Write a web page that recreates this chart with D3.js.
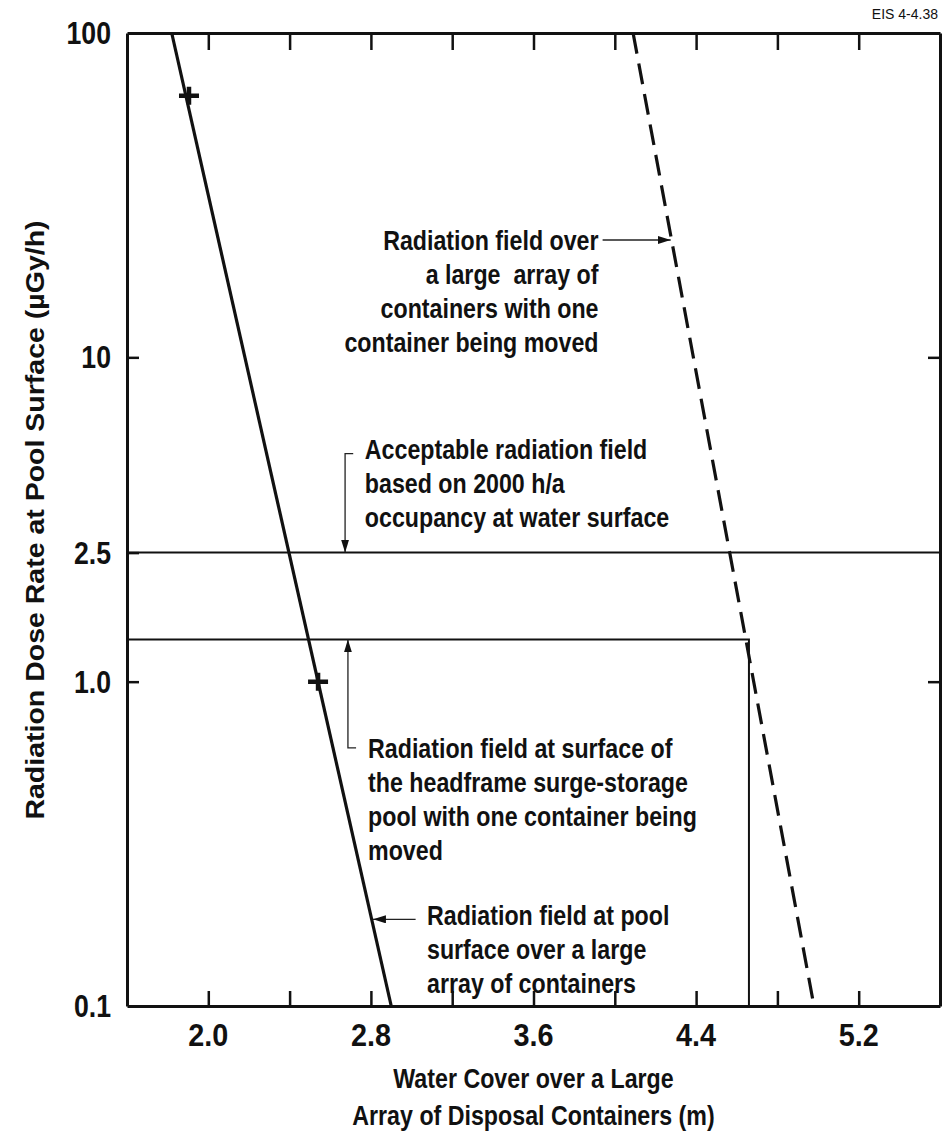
<!DOCTYPE html>
<html>
<head>
<meta charset="utf-8">
<script src="https://cdn.jsdelivr.net/npm/d3@7"></script>
<style>
  html, body { margin: 0; padding: 0; background: #fff; }
  svg { display: block; }
  text { font-family: "Liberation Sans", Arial, Helvetica, sans-serif; fill: #111; }
</style>
</head>
<body>
<svg id="chart" width="942" height="1145"></svg>
<script>
// Water cover (m) versus dose rate (µGy/h) for the two shielding cases
const poolArrayX = [1.82, 2.90];          // pool surface, large array of containers
const poolArrayY = [100, 0.1];
const poolMarkersX = [1.905, 2.54];       // computed points on that curve
const poolMarkersY = [64, 1.0];
const movingX = [4.09, 4.98];             // one container being moved
const movingY = [100, 0.1];
const acceptableRate = 2.5;               // 2000 h/a occupancy limit
const surgePoolRate = 1.35;               // headframe surge-storage pool
const surgePoolCover = 4.66;
const xTicks = [2.0, 2.4, 2.8, 3.2, 3.6, 4.0, 4.4, 4.8, 5.2];
const xTickLabels = ["2.0", "2.8", "3.6", "4.4", "5.2"];
const yTickLabels = ["100", "10", "2.5", "1.0", "0.1"];
const yLeftTicks = [10, 2.5, 1.0];
const yRightTicks = [10, 1.0];

const svg = d3.select("#chart");
const plotLeft = 127, plotRight = 940, plotTop = 33, plotBottom = 1006;
const narrow = 0.86;   // the lettering is set slightly condensed

const x = d3.scaleLinear().domain([1.6, 5.6]).range([plotLeft, plotRight]);
const y = d3.scaleLog().domain([0.1, 100]).range([plotBottom, plotTop]);

// condensed bold label anchored at (px, py)
function label(px, py, str, size, anchor, extra, squeeze) {
  return svg.append("text")
    .attr("transform", `translate(${px},${py}) scale(${squeeze || narrow},1)` + (extra || ""))
    .attr("text-anchor", anchor).attr("font-size", size).attr("font-weight", "bold")
    .style("white-space", "pre")
    .text(str);
}

// arrowhead
svg.append("defs").append("marker")
  .attr("id", "arrow").attr("viewBox", "0 0 13 8")
  .attr("refX", 13).attr("refY", 4)
  .attr("markerWidth", 13).attr("markerHeight", 8)
  .attr("markerUnits", "userSpaceOnUse")
  .attr("orient", "auto")
  .append("path").attr("d", "M0,0 L13,4 L0,8 Z").attr("fill", "#111");

// axes: ticks point inward, labels chosen by hand
const xBottom = d3.axisBottom(x).tickValues(xTicks).tickSizeInner(-15).tickSizeOuter(0).tickFormat("");
const xTop = d3.axisTop(x).tickValues(xTicks).tickSizeInner(-17).tickSizeOuter(0).tickFormat("");
const yLeft = d3.axisLeft(y).tickValues(yLeftTicks).tickSizeInner(-12).tickSizeOuter(0).tickFormat("");
const yRight = d3.axisRight(y).tickValues(yRightTicks).tickSizeInner(-12).tickSizeOuter(0).tickFormat("");

function styleAxis(g) {
  g.selectAll("path.domain").attr("stroke", "#111").attr("stroke-width", 3);
  g.selectAll(".tick line").attr("stroke", "#111").attr("stroke-width", 2.5);
}
svg.append("g").attr("transform", `translate(0,${plotBottom})`).call(xBottom).call(styleAxis);
svg.append("g").attr("transform", `translate(0,${plotTop})`).call(xTop).call(styleAxis);
svg.append("g").attr("transform", `translate(${plotLeft},0)`).call(yLeft).call(styleAxis);
svg.append("g").attr("transform", `translate(${plotRight},0)`).call(yRight).call(styleAxis);

// tick labels
xTickLabels.forEach(d => label(x(+d), plotBottom + 40, d, 32, "middle", "", 0.9));
yTickLabels.forEach(d => label(plotLeft - 16, y(+d) + 11, d, 31, "end"));

// reference levels
svg.append("line")
  .attr("x1", x(1.6)).attr("x2", x(5.6))
  .attr("y1", y(acceptableRate)).attr("y2", y(acceptableRate))
  .attr("stroke", "#111").attr("stroke-width", 2);
svg.append("path")
  .attr("d", d3.line()([[x(1.6), y(surgePoolRate)], [x(surgePoolCover), y(surgePoolRate)], [x(surgePoolCover), y(0.1)]]))
  .attr("fill", "none").attr("stroke", "#111").attr("stroke-width", 2);

// dose-rate curves
const line = d3.line().x(d => x(d[0])).y(d => y(d[1]));
svg.append("path")
  .attr("d", line(d3.zip(poolArrayX, poolArrayY)))
  .attr("fill", "none").attr("stroke", "#111").attr("stroke-width", 3.2);
svg.append("path")
  .attr("d", line(d3.zip(movingX, movingY)))
  .attr("fill", "none").attr("stroke", "#111").attr("stroke-width", 3.2)
  .attr("stroke-dasharray", "21,10");

// plus markers on the solid curve
svg.append("g").selectAll("path").data(d3.zip(poolMarkersX, poolMarkersY)).join("path")
  .attr("transform", d => `translate(${x(d[0])},${y(d[1])})`)
  .attr("d", "M-10,0 H10 M0,-9 V9")
  .attr("stroke", "#111").attr("stroke-width", 4.5);

// annotation leaders
function leader(points) {
  svg.append("path")
    .attr("d", d3.line()(points.map(p => [x(p[0]), y(p[1])])))
    .attr("fill", "none").attr("stroke", "#222").attr("stroke-width", 1.3)
    .attr("marker-end", "url(#arrow)");
}
leader([[3.94, 23], [4.275, 23]]);
leader([[2.713, 5.05], [2.673, 5.05], [2.673, acceptableRate]]);
leader([[2.727, 0.625], [2.687, 0.625], [2.687, surgePoolRate]]);
leader([[3.02, 0.185], [2.81, 0.185]]);

// annotation text
const notes = [
  { lines: ["Radiation field over", "a large  array of", "containers with one", "container being moved"], x: 3.92, y: 21.5, anchor: "end" },
  { lines: ["Acceptable radiation field", "based on 2000 h/a", "occupancy at water surface"], x: 2.77, y: 4.85, anchor: "start" },
  { lines: ["Radiation field at surface of", "the headframe surge-storage", "pool with one container being", "moved"], x: 2.786, y: 0.583, anchor: "start" },
  { lines: ["Radiation field at pool", "surface over a large", "array of containers"], x: 3.076, y: 0.178, anchor: "start" }
];
notes.forEach(n => {
  n.lines.forEach((l, i) => label(x(n.x), y(n.y) + i * 34, l, 27, n.anchor));
});

// axis titles
label((plotLeft + plotRight) / 2, 1088, "Water Cover over a Large", 27, "middle");
label((plotLeft + plotRight) / 2, 1125, "Array of Disposal Containers (m)", 27, "middle");
label(44, 520, "Radiation Dose Rate at Pool Surface (µGy/h)", 28.5, "middle", " rotate(-90)", 0.9);

// figure number
svg.append("text")
  .attr("x", 938).attr("y", 19).attr("text-anchor", "end").attr("font-size", 14)
  .text("EIS 4-4.38");
</script>
</body>
</html>
